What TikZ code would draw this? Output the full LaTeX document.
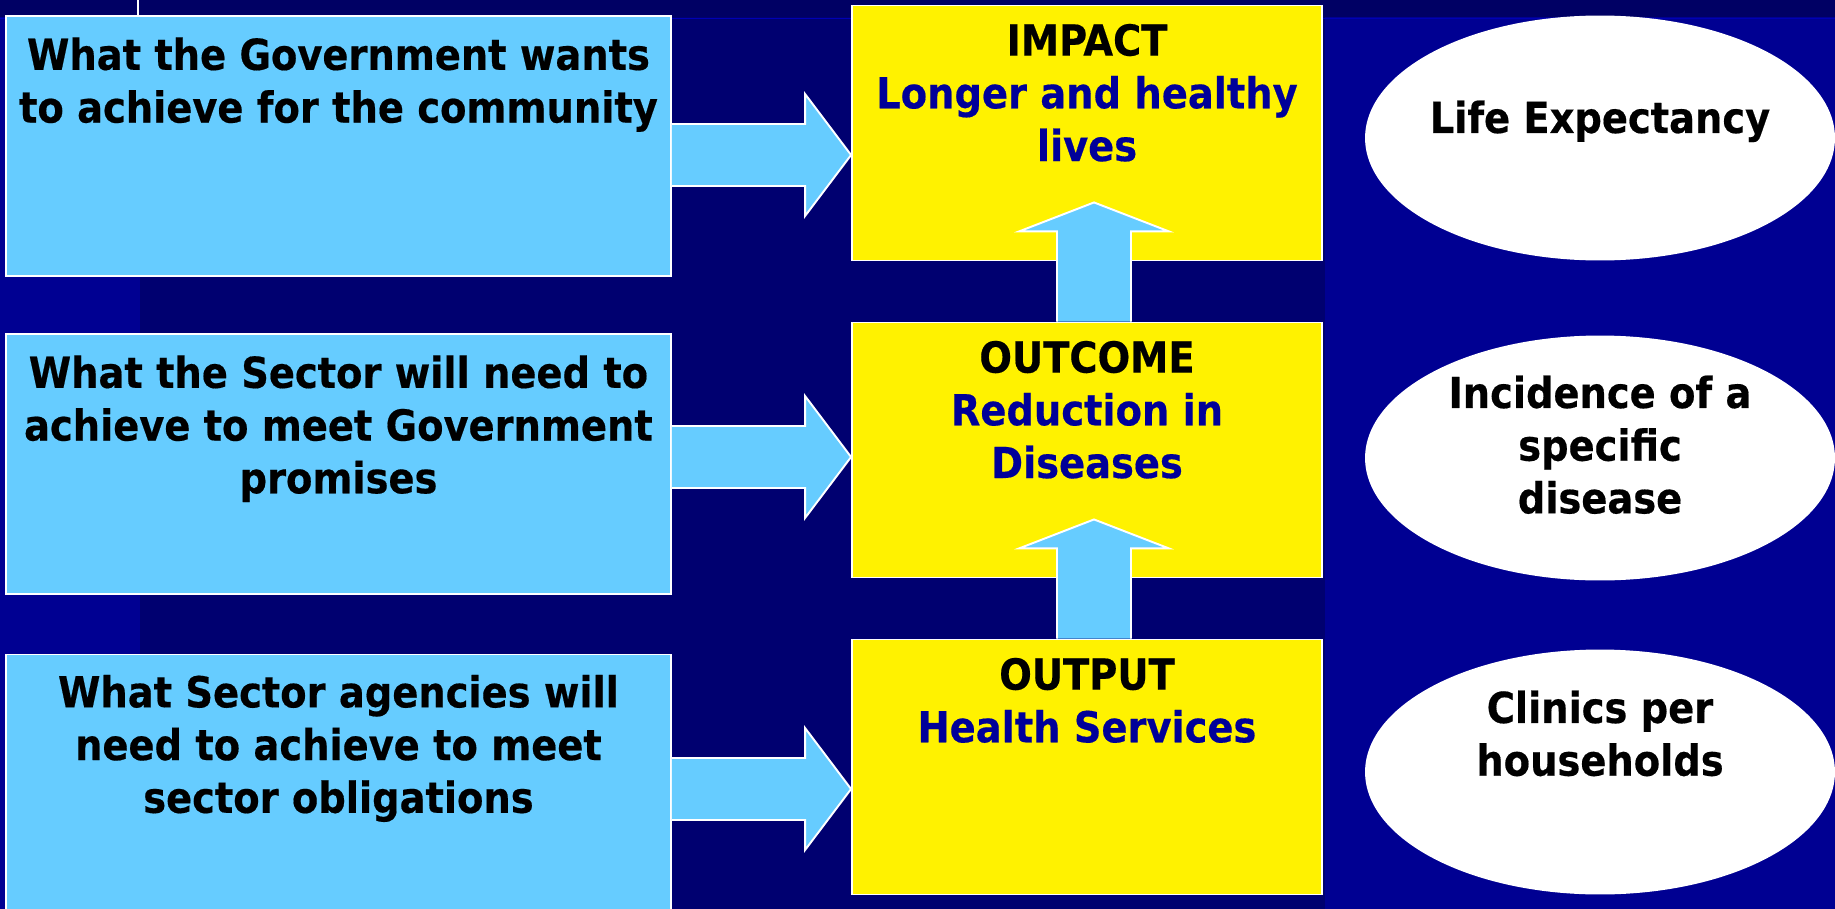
\documentclass[tikz,border=0pt]{standalone}
\usepackage{fontspec}
\setmainfont{DejaVu Sans Condensed}[BoldFeatures={FakeBold=0.4}]
\usetikzlibrary{positioning,calc,shapes.geometric}
\definecolor{bgside}{RGB}{0,0,146}
\definecolor{bgmid}{RGB}{0,0,112}
\definecolor{bgtop}{RGB}{0,0,100}
\definecolor{bgline}{RGB}{0,0,180}
\definecolor{skyblue}{RGB}{102,204,255}
\definecolor{tblue}{RGB}{0,0,153}
\begin{document}
\begin{tikzpicture}[x=0.02cm,y=-0.02cm,font=\fontsize{24.3}{30}\selectfont\bfseries]
	\tikzstyle{goal}=[draw=white,line width=1.1pt,fill=skyblue,inner sep=0pt,minimum width=13.3cm,minimum height=5.2cm]
	\tikzstyle{result}=[draw=white,line width=1.1pt,fill=yellow,inner sep=0pt,minimum width=9.4cm,minimum height=5.1cm]
	\tikzstyle{measure}=[ellipse,fill=white,inner sep=0pt,minimum width=9.4cm,minimum height=4.9cm]
	\tikzstyle{txt}=[align=center,inner sep=0pt]
	\tikzstyle{fat}=[fill=skyblue,draw=white,line width=1.1pt]

	\useasboundingbox (0,0) rectangle (1835,909);
	\clip (0,0) rectangle (1835,909);
	\fill[bgside] (0,0) rectangle (1835,909);
	\fill[bgmid] (140,0) rectangle (1325,909);
	\fill[bgtop] (0,0) rectangle (1835,17);
	\draw[bgline,line width=1pt] (0,18.5) -- (1835,18.5);
	\draw[white,line width=1pt] (138,0) -- (138,17);

	\node[goal](g1) at (338.5,146){};
	\node[goal](g2) at (338.5,464){};
	\node[goal](g3) at (338.5,784.5){};
	\node[result](r1) at (1087,133){};
	\node[result](r2) at (1087,450){};
	\node[result](r3) at (1087,767){};
	\node[measure](m1) at (1600,138){};
	\node[measure](m2) at (1600,458){};
	\node[measure](m3) at (1600,772){};

	\node[txt,below=0.44cm of g1.north](g1t){What the Government wants\\to achieve for the community};
	\node[txt,below=0.44cm of g2.north](g2t){What the Sector will need to\\achieve to meet Government\\promises};
	\node[txt,below=0.42cm of g3.north](g3t){What Sector agencies will\\need to achieve to meet\\sector obligations};

	\node[txt,below=0.38cm of r1.north](r1t){IMPACT\\{\color{tblue}Longer and healthy}\\{\color{tblue}lives}};
	\node[txt,below=0.38cm of r2.north](r2t){OUTCOME\\{\color{tblue}Reduction in}\\{\color{tblue}Diseases}};
	\node[txt,below=0.38cm of r3.north](r3t){OUTPUT\\{\color{tblue}Health Services}};

	\node[txt,below=1.7cm of m1.north](m1t){Life Expectancy};
	\node[txt,below=0.8cm of m2.north](m2t){Incidence of a\\specific\\disease};
	\node[txt,below=0.82cm of m3.north](m3t){Clinics per\\households};

	\foreach \a/\b/\y in {g1/r1/155,g2/r2/457,g3/r3/789}
		\draw[fat] (\a.east |- 0,\y-31) -- ($(\b.west |- 0,\y-31)+(-46,0)$) -- ($(\b.west |- 0,\y-61)+(-46,0)$) -- (\b.west |- 0,\y) -- ($(\b.west |- 0,\y+61)+(-46,0)$) -- ($(\b.west |- 0,\y+31)+(-46,0)$) -- (\a.east |- 0,\y+31);
	\foreach \a/\b in {r2/r1,r3/r2}
		\draw[fat] ($(\a.north)+(-30,0)$) -- ($(\b.south)+(-30,-30)$) -- ++(-38,0) -- ++(75,-29) -- ++(75,29) -- ++(-38,0) -- ($(\a.north)+(44,0)$);
\end{tikzpicture}
\end{document}
